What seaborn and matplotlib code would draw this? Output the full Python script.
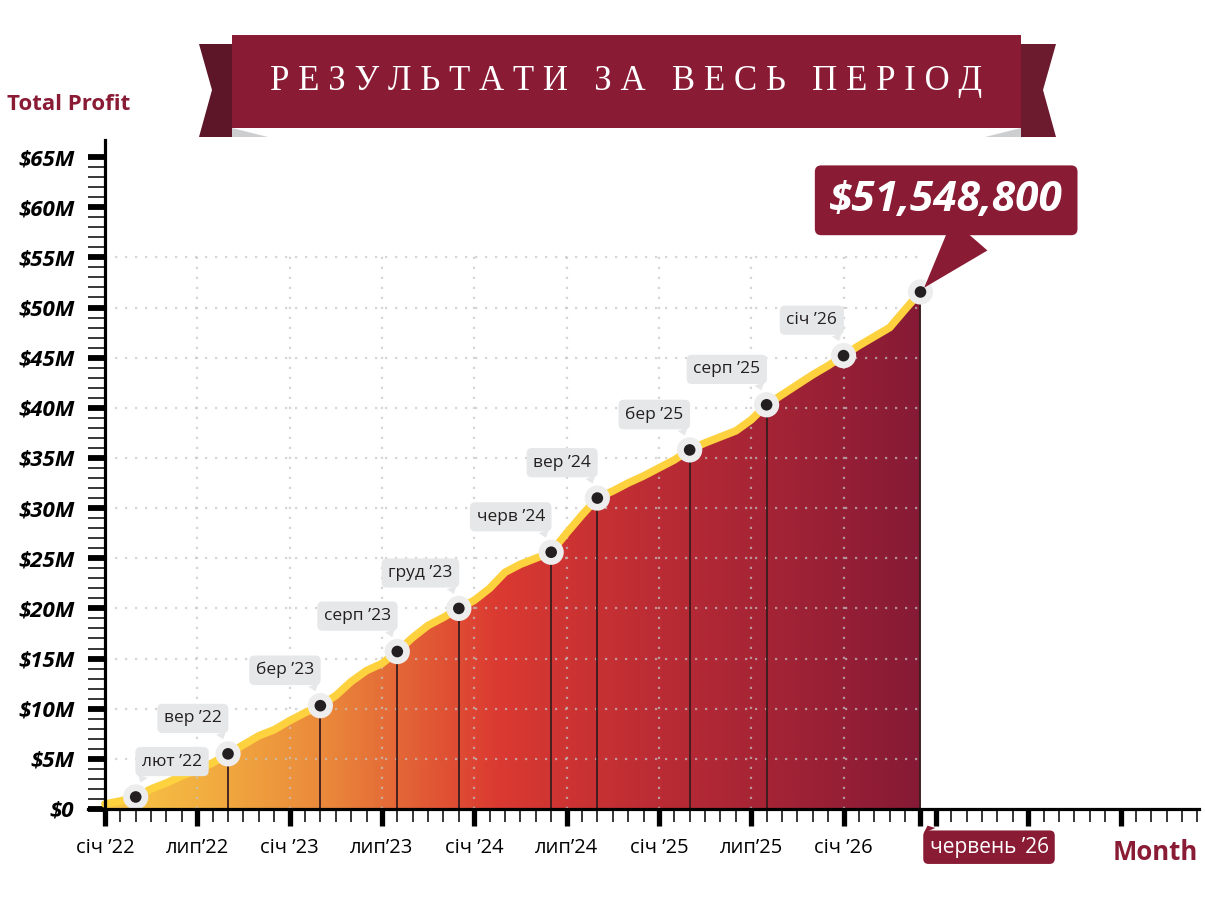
import numpy as np
import pandas as pd
import seaborn as sns
import matplotlib.pyplot as plt
from matplotlib.colors import LinearSegmentedColormap
from matplotlib.patches import Polygon

# monthly cumulative profit, $M, month 0 = Jan 2022
months = list(range(54))
profit_m = [0.5, 0.8, 1.2, 2.0, 2.6, 3.3, 3.9, 4.6, 5.5, 6.4,
            7.3, 7.9, 8.8, 9.6, 10.3, 11.3, 12.7, 13.8, 14.5, 15.7,
            17.1, 18.3, 19.1, 20.0, 20.8, 22.0, 23.6, 24.4, 25.0, 25.6,
            27.5, 29.3, 31.0, 31.7, 32.5, 33.2, 34.0, 34.8, 35.8, 36.5,
            37.1, 37.7, 38.8, 40.3, 41.3, 42.3, 43.3, 44.2, 45.2, 46.2,
            47.1, 48.0, 49.8, 51.5488]

point_months = [2, 8, 14, 19, 23, 29, 32, 38, 43, 48]
point_labels = ["лют ’22", "вер ’22", "бер ’23", "серп ’23", "груд ’23",
                "черв ’24", "вер ’24", "бер ’25", "серп ’25", "січ ’26"]
drop_months = [8, 14, 19, 23, 29, 32, 38, 43, 53]

final_month = 53
final_label = "червень ’26"
final_total = 51548800

tick_months = [0, 6, 12, 18, 24, 30, 36, 42, 48]
tick_labels = ["січ ’22", "лип’22", "січ ’23", "лип’23", "січ ’24",
               "лип’24", "січ ’25", "лип’25", "січ ’26"]
last_month_on_axis = 71
y_ticks = list(range(0, 70, 5))
y_labels = ["$0"] + [f"${v}M" for v in y_ticks[1:]]

title = "РЕЗУЛЬТАТИ ЗА ВЕСЬ ПЕРІОД"
y_title = "Total Profit"
x_title = "Month"

MAROON = "#8A1B35"
YELLOW = "#FDD23E"
SANS = ['Open Sans', 'DejaVu Sans']

sns.set_theme(style="white")
plt.rcParams['font.family'] = SANS

W, H = 1205, 908
fig = plt.figure(figsize=(W / 100, H / 100), dpi=100)
fig.patch.set_facecolor("white")


def fx(x, y):
    return (x / W, 1 - y / H)


# axes placed so that month 0 sits at x=105px, $0 at y=809px
ax = fig.add_axes([88 / W, 1 - 809 / H, (1199 - 88) / W, (809 - 140) / H])
ax.set_facecolor("none")
xlim = (-1.1, 71.1)
ylim = (0, 66.7)

# gradient area under the curve
fill = ax.fill_between(months, profit_m, 0, color="none", lw=0)
cmap = LinearSegmentedColormap.from_list(
    "profit", [(0.0, "#F8C745"), (0.12, "#F2AE40"), (0.27, "#EA883B"),
               (0.48, "#DB3A31"), (0.72, "#B42935"), (1.0, "#861A35")])
grad = np.linspace(0, 1, 600)[None, :]
im = ax.imshow(grad, extent=[0, final_month, 0, max(profit_m) + 1], cmap=cmap,
               aspect="auto", origin="lower", zorder=1)
im.set_clip_path(fill.get_paths()[0], transform=ax.transData)

# dotted grid
grid_y = [v for v in y_ticks if 0 < v <= 55]
grid_x = [m for m in tick_months if m > 0]
ax.hlines(grid_y, 0, final_month, colors="#C4C4C4", linestyles=(0, (1, 3.5)),
          lw=1.6, alpha=0.7, zorder=2)
ax.vlines(grid_x, 0, 55.6, colors="#C4C4C4", linestyles=(0, (1, 3.5)),
          lw=1.6, alpha=0.7, zorder=2)

# drop lines
ax.vlines(drop_months, 0, [profit_m[m] for m in drop_months],
          colors="#3A1C1E", lw=1.3, zorder=3)

# main line
sns.lineplot(x=months, y=profit_m, color=YELLOW, linewidth=5.5, ax=ax,
             zorder=4, solid_joinstyle="miter")

# markers
mk = point_months + [final_month]
mk_df = pd.DataFrame({"m": mk, "v": [profit_m[m] for m in mk]})
sns.scatterplot(data=mk_df, x="m", y="v", s=330, color="#EDEDED",
                edgecolor="none", ax=ax, zorder=5)
sns.scatterplot(data=mk_df, x="m", y="v", s=70, color="#231F20",
                edgecolor="none", ax=ax, zorder=6)

# point labels (first one sits to the right of its point)
for i, (m, lab) in enumerate(zip(point_months, point_labels)):
    right = i == 0
    ax.annotate(lab, xy=(m, profit_m[m]), xytext=(4.5 if right else -4.5, 25.5),
                textcoords="offset points", ha="left" if right else "right",
                va="center", fontsize=12.5, color="#231F20", zorder=7,
                bbox=dict(boxstyle="round,pad=0.38,rounding_size=0.3",
                          fc="#E6E7E8", ec="none"),
                arrowprops=dict(arrowstyle="wedge,tail_width=0.6,shrink_factor=0.5",
                                fc="#E6E7E8", ec="none",
                                relpos=(0.06 if right else 0.94, 0.1),
                                shrinkA=0, shrinkB=11))

# total callout
ax.annotate(f"${final_total:,}", xy=(final_month, profit_m[final_month]),
            xytext=(18.5, 66), textcoords="offset points", ha="center",
            va="center", fontsize=30.5, fontweight="bold", fontstyle="italic",
            color="white", zorder=8,
            bbox=dict(boxstyle="round,pad=0.34,rounding_size=0.15",
                      fc=MAROON, ec="none"),
            arrowprops=dict(arrowstyle="wedge,tail_width=1.1,shrink_factor=0.5",
                            fc=MAROON, ec="none", relpos=(0.67, 0.1),
                            shrinkA=0, shrinkB=4))

# final month badge
ax.annotate(final_label, xy=(final_month, 0), xytext=(6.5, -27.5),
            textcoords="offset points", ha="left", va="center",
            fontsize=15, color="white", zorder=8, annotation_clip=False,
            bbox=dict(boxstyle="round,pad=0.3,rounding_size=0.25",
                      fc=MAROON, ec="none"),
            arrowprops=dict(arrowstyle="wedge,tail_width=0.6,shrink_factor=0.5",
                            fc=MAROON, ec="none", relpos=(0.03, 0.9),
                            shrinkA=0, shrinkB=13))

# axes and ticks
ax.set_xlim(*xlim)
ax.set_ylim(*ylim)
ax.set_xlabel("")
ax.set_ylabel("")
for s in ["top", "right"]:
    ax.spines[s].set_visible(False)
ax.spines["left"].set_position(("data", 0))
for s in ["left", "bottom"]:
    ax.spines[s].set_color("black")
    ax.spines[s].set_linewidth(2.3)
    ax.spines[s].set_zorder(9)

major_x = list(range(0, last_month_on_axis + 1, 6)) + [final_month]
major_x_labels = tick_labels + [""] * (len(major_x) - len(tick_labels))
ax.set_xticks(major_x, major_x_labels)
ax.set_xticks(range(0, last_month_on_axis + 1), minor=True)
ax.set_yticks(y_ticks, y_labels)
ax.set_yticks(range(0, 66), minor=True)

ax.tick_params(which="both", bottom=True, left=True, top=False, right=False)
ax.tick_params(axis="x", which="major", direction="out", length=12, width=3.8,
               pad=9, labelsize=14.5, colors="black")
ax.tick_params(axis="x", which="minor", direction="out", length=9.5, width=1.1,
               colors="black")
ax.tick_params(axis="y", which="major", direction="out", length=12, width=4.2,
               pad=10, labelsize=16, colors="black")
ax.tick_params(axis="y", which="minor", direction="out", length=12, width=1.1,
               colors="black")
for t in ax.get_yticklabels():
    t.set_fontweight("bold")
    t.set_fontstyle("italic")
ax.grid(False)

# axis titles
fig.text(*fx(7, 104), y_title, ha="left", va="center", fontsize=16,
         fontweight="bold", color=MAROON)
fig.text(*fx(1198, 853), x_title, ha="right", va="center", fontsize=18.5,
         fontweight="bold", color=MAROON)

# title ribbon
def fpoly(pts, color, z=1):
    fig.add_artist(Polygon([fx(x, y) for x, y in pts], closed=True,
                           fc=color, ec="none", transform=fig.transFigure,
                           zorder=z))

fpoly([(199, 44), (232, 44), (232, 137), (199, 137), (212, 90)], "#5C1628")
fpoly([(1021, 44), (1056, 44), (1043, 90), (1056, 137), (1021, 137)], "#6C1A2E")
fpoly([(232, 128), (268, 137), (232, 137)], "#CDCED0", 2)
fpoly([(1021, 128), (985, 137), (1021, 137)], "#CDCED0", 2)
fpoly([(232, 35), (1021, 35), (1021, 128), (232, 128)], MAROON, 3)
spaced = "   ".join(" ".join(word) for word in title.split(" "))
fig.text(*fx(626, 81), spaced, ha="center", va="center", fontsize=25,
         color="white", family=["Liberation Serif", "DejaVu Serif"], zorder=4)

fig.savefig("out.png", dpi=100)
